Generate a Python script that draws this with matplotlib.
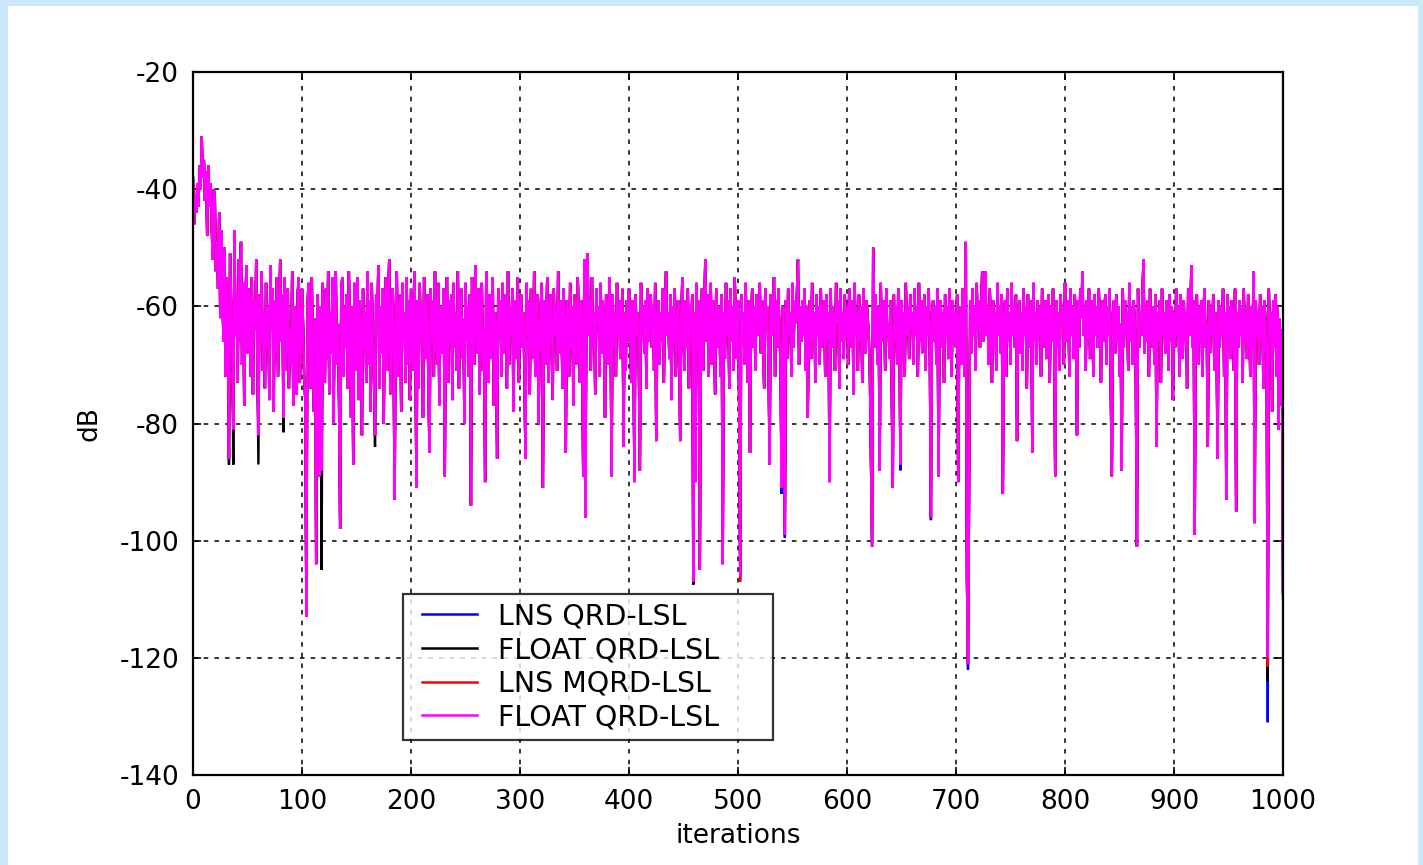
import numpy as np
import matplotlib
matplotlib.use("Agg")
import matplotlib.pyplot as plt
from matplotlib.patches import Rectangle
from matplotlib.legend_handler import HandlerLine2D
from matplotlib.lines import Line2D

# Output error power (dB) per iteration, FLOAT QRD-LSL reference run
error_db = [
    -38, -46, -41, -44, -39, -43, -36, -40, -31, -38, -35, -42, -37, -48, -36, -43, -39, -45, -52, -40,
    -41, -54, -49, -57, -44, -62, -47, -59, -66, -50, -72, -55, -63, -86, -51, -60, -68, -81, -47, -65,
    -58, -73, -52, -66, -49, -70, -56, -77, -60, -53, -68, -57, -62, -72, -55, -75, -59, -64, -52, -69,
    -82, -58, -66, -54, -71, -61, -74, -56, -67, -60, -76, -53, -63, -57, -78, -59, -68, -55, -72, -62,
    -52, -66, -58, -79, -55, -71, -61, -57, -74, -64, -70, -54, -77, -60, -65, -75, -58, -55, -73, -67,
    -57, -63, -72, -76, -113, -60, -56, -67, -74, -55, -70, -78, -62, -104, -58, -68, -89, -60, -88, -56,
    -65, -73, -57, -69, -54, -75, -61, -68, -55, -80, -60, -54, -70, -63, -77, -98, -57, -55, -72, -60,
    -67, -58, -74, -54, -65, -79, -60, -87, -56, -71, -62, -55, -76, -59, -69, -82, -57, -67, -61, -73,
    -54, -70, -59, -78, -56, -65, -72, -82, -58, -64, -53, -74, -60, -68, -57, -80, -61, -55, -71, -59,
    -52, -75, -64, -57, -69, -93, -60, -54, -72, -62, -58, -78, -56, -66, -61, -73, -55, -70, -59, -76,
    -57, -64, -71, -54, -67, -91, -59, -74, -56, -65, -60, -79, -55, -69, -61, -58, -75, -85, -57, -66,
    -59, -72, -54, -65, -70, -56, -77, -60, -63, -68, -57, -89, -61, -55, -73, -59, -66, -58, -76, -56,
    -67, -61, -71, -54, -74, -59, -57, -69, -62, -80, -56, -66, -60, -72, -58, -94, -55, -65, -70, -53,
    -61, -68, -57, -75, -59, -56, -71, -64, -90, -54, -63, -73, -58, -69, -60, -55, -77, -61, -66, -86,
    -57, -65, -59, -72, -56, -68, -61, -58, -74, -54, -70, -60, -65, -57, -78, -59, -63, -69, -55, -73,
    -60, -58, -67, -61, -71, -86, -56, -65, -59, -75, -57, -63, -69, -54, -72, -61, -58, -80, -66, -60,
    -56, -91, -59, -70, -63, -55, -73, -61, -58, -67, -76, -57, -65, -60, -71, -54, -68, -59, -63, -74,
    -57, -66, -85, -59, -62, -72, -56, -67, -60, -77, -58, -64, -70, -55, -63, -73, -59, -68, -89, -52,
    -96, -57, -51, -65, -59, -71, -55, -67, -61, -75, -57, -63, -60, -72, -56, -68, -59, -66, -79, -58,
    -63, -70, -55, -61, -89, -58, -67, -61, -72, -56, -65, -59, -69, -63, -57, -84, -61, -71, -59, -66,
    -57, -63, -73, -59, -67, -90, -58, -65, -61, -70, -88, -56, -64, -60, -68, -59, -74, -57, -66, -61,
    -58, -67, -60, -71, -56, -83, -63, -59, -70, -61, -66, -57, -73, -59, -54, -65, -61, -69, -58, -76,
    -60, -66, -57, -72, -63, -59, -68, -83, -61, -55, -65, -71, -59, -67, -57, -74, -60, -64, -58, -107,
    -61, -90, -56, -67, -59, -105, -63, -57, -71, -60, -52, -66, -58, -72, -61, -56, -70, -59, -65, -75,
    -57, -67, -60, -64, -72, -58, -104, -61, -69, -56, -65, -59, -74, -57, -66, -60, -71, -55, -63, -69,
    -59, -76, -106, -58, -66, -61, -70, -56, -65, -73, -59, -85, -63, -57, -67, -60, -71, -58, -65, -61,
    -56, -68, -59, -66, -74, -57, -63, -60, -70, -87, -58, -65, -61, -55, -72, -59, -67, -57, -64, -70,
    -91, -60, -66, -99, -59, -69, -57, -65, -61, -72, -56, -67, -59, -63, -58, -52, -70, -60, -66, -59,
    -65, -57, -71, -60, -79, -63, -59, -69, -56, -66, -61, -73, -58, -65, -60, -70, -57, -67, -63, -59,
    -72, -58, -66, -61, -90, -57, -67, -60, -65, -71, -56, -63, -59, -74, -57, -66, -61, -69, -58, -65,
    -60, -70, -57, -64, -67, -59, -75, -56, -65, -61, -71, -58, -66, -60, -73, -57, -63, -68, -59, -62,
    -65, -72, -86, -101, -50, -67, -58, -63, -70, -60, -88, -56, -66, -61, -59, -71, -57, -65, -63, -69,
    -59, -74, -91, -58, -66, -60, -70, -57, -63, -87, -59, -67, -61, -72, -56, -65, -60, -69, -58, -64,
    -61, -70, -57, -65, -60, -72, -56, -66, -59, -68, -63, -58, -71, -60, -65, -57, -69, -96, -61, -59,
    -66, -60, -70, -57, -89, -63, -59, -67, -61, -73, -58, -65, -60, -69, -57, -63, -72, -59, -66, -61,
    -67, -58, -90, -63, -60, -70, -57, -65, -72, -49, -106, -121, -92, -59, -68, -57, -65, -60, -71, -56,
    -64, -59, -67, -61, -54, -66, -58, -54, -65, -60, -70, -57, -63, -73, -59, -67, -61, -71, -56, -65,
    -60, -68, -58, -92, -63, -59, -72, -57, -66, -61, -70, -56, -65, -60, -67, -58, -83, -63, -59, -68,
    -61, -71, -57, -65, -60, -74, -58, -67, -63, -59, -85, -56, -66, -61, -70, -59, -65, -60, -72, -57,
    -63, -67, -59, -69, -61, -58, -73, -60, -66, -57, -65, -89, -59, -67, -61, -71, -58, -63, -60, -70,
    -56, -66, -61, -59, -72, -57, -65, -60, -69, -58, -63, -82, -59, -67, -57, -62, -54, -65, -60, -71,
    -59, -66, -57, -69, -61, -59, -72, -58, -65, -60, -67, -57, -63, -73, -59, -66, -61, -58, -70, -60,
    -65, -57, -75, -89, -61, -59, -68, -58, -66, -60, -72, -63, -88, -57, -67, -59, -65, -61, -71, -56,
    -66, -60, -70, -59, -63, -74, -101, -57, -67, -61, -65, -58, -52, -68, -60, -66, -59, -72, -57, -63,
    -67, -60, -70, -58, -84, -61, -66, -59, -73, -57, -65, -61, -68, -59, -63, -71, -58, -66, -60, -76,
    -61, -67, -57, -65, -60, -72, -58, -63, -69, -59, -66, -61, -74, -57, -65, -60, -53, -67, -59, -99,
    -63, -58, -70, -60, -66, -59, -72, -61, -57, -67, -63, -84, -59, -68, -60, -65, -58, -71, -61, -66,
    -86, -59, -67, -60, -65, -57, -72, -61, -93, -58, -66, -60, -69, -59, -63, -71, -57, -95, -61, -67,
    -59, -65, -60, -73, -57, -66, -61, -69, -58, -63, -72, -60, -67, -54, -97, -59, -65, -61, -70, -58,
    -66, -60, -74, -59, -63, -69, -120, -57, -65, -61, -78, -59, -67, -58, -72, -60, -81, -62, -77, -64,
    -109,
]

# Iterations where the other implementations depart from the curve above
lns_qrd_diff = {543: -99.5, 540: -92, 622: -87, 649: -88, 677: -96.5, 711: -122, 986: -131}
float_qrd_diff = {33: -87, 37: -87, 60: -87, 83: -81.5, 118: -105, 167: -84, 459: -107.5,
                  712: -93, 986: -124, 1000: -110}
lns_mqrd_diff = {502: -107, 986: -121.5}

series_labels = ["LNS QRD-LSL", "FLOAT QRD-LSL", "LNS MQRD-LSL", "FLOAT QRD-LSL"]
series_colors = ["#0000ff", "#000000", "#ff0000", "#ff00ff"]

x_ticks = [0, 100, 200, 300, 400, 500, 600, 700, 800, 900, 1000]
y_ticks = [-140, -120, -100, -80, -60, -40, -20]

plt.rcParams["font.family"] = ["DejaVu Sans"]
plt.rcParams["axes.unicode_minus"] = False
FS = 19
LEG_FS = 20.5

base = np.array(error_db, dtype=float)
iterations = np.arange(len(base))


def with_diff(diff):
    y = base.copy()
    for k, v in diff.items():
        y[k] = v
    return y


curves = [with_diff(lns_qrd_diff), with_diff(float_qrd_diff),
          with_diff(lns_mqrd_diff), base]

fig = plt.figure(figsize=(14.23, 8.65), dpi=100)
fig.patch.set_facecolor("#cce9fb")
fig.patches.append(Rectangle((8 / 1423, 0), 1410 / 1423, 859 / 865,
                             transform=fig.transFigure, facecolor="white",
                             edgecolor="none", zorder=-10))

ax = fig.add_axes([193 / 1423, 1 - 775 / 865, 1090 / 1423, 703 / 865])
ax.set_facecolor("white")

for y, lab, col in zip(curves, series_labels, series_colors):
    ax.plot(iterations, y, color=col, lw=1.7, label=lab, solid_joinstyle="miter")

ax.set_xlim(0, 1000)
ax.set_ylim(-140, -20)
ax.set_xticks(x_ticks)
ax.set_yticks(y_ticks)
ax.grid(True, color="black", linestyle=(0, (3, 4)), linewidth=1.1)
ax.set_axisbelow(True)
ax.tick_params(direction="in", length=6, width=1.2, labelsize=FS,
               top=True, right=True, pad=10)
for s in ax.spines.values():
    s.set_linewidth(1.6)

ax.set_xlabel("iterations", fontsize=FS, labelpad=6)
ax.set_ylabel("dB", fontsize=FS, labelpad=12)

leg = ax.legend(loc="lower left", bbox_to_anchor=(0.1927, 0.0498, 0.339, 0.199),
                mode="expand", fontsize=LEG_FS, frameon=True, fancybox=False,
                handlelength=2.3, handletextpad=0.75, labelspacing=0.2,
                borderpad=0.3, borderaxespad=0,
                handler_map={Line2D: HandlerLine2D(xpad=0.38)})
leg.get_frame().set_edgecolor("black")
leg.get_frame().set_linewidth(1.6)
for ln in leg.get_lines():
    ln.set_linewidth(1.8)

fig.savefig("out.png", dpi=100)
